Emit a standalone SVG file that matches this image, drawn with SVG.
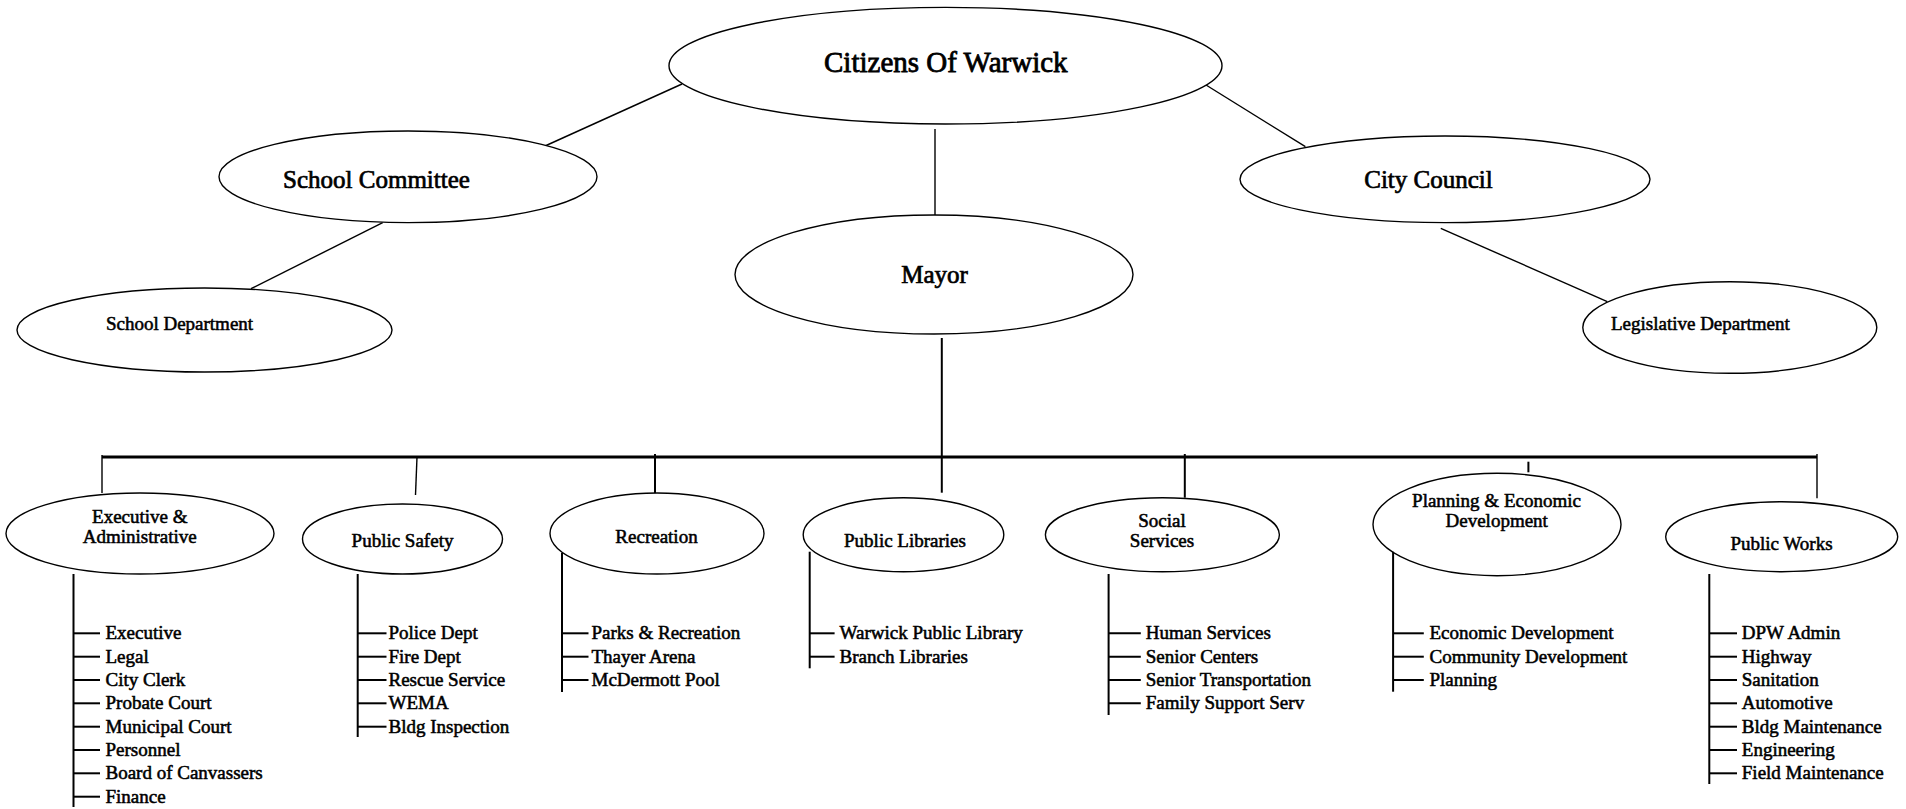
<svg xmlns="http://www.w3.org/2000/svg" width="1906" height="809" viewBox="0 0 1906 809">
<style>
  .bg { fill: #ffffff; }
  .node ellipse { fill: #ffffff; stroke: #000000; stroke-width: 1.4; }
  text { font-family: "Liberation Serif", "Times New Roman", serif; fill: #000000; stroke: #000000; stroke-width: 0.55; }
  .big { font-size: 29px; text-anchor: middle; stroke-width: 0.8; }
  .mid { font-size: 25px; text-anchor: middle; stroke-width: 0.7; }
  .lbl { font-size: 19px; text-anchor: middle; }
  .item { font-size: 19px; text-anchor: start; }
  .conn line { stroke: #000000; stroke-width: 1.4; fill: none; }
  .conn .bus { stroke-width: 3.2; }
  .conn .trunk { stroke-width: 2; }
  .list line { stroke: #000000; stroke-width: 2; }
</style>
<rect class="bg" x="0" y="0" width="1906" height="809"/>

<g id="connectors" class="conn">
  <line x1="682" y1="84" x2="545" y2="146"/>
  <line x1="1204.4" y1="84" x2="1305.4" y2="146.7"/>
  <line x1="935" y1="129" x2="935" y2="215"/>
  <line x1="382.7" y1="222.7" x2="251" y2="288.7"/>
  <line x1="1440.8" y1="228.3" x2="1607.3" y2="301.7"/>
  <line class="trunk" x1="941.8" y1="338" x2="941.8" y2="492.7"/>
  <line class="bus" x1="102" y1="457" x2="1817" y2="457"/>
  <line x1="102" y1="455" x2="102" y2="493"/>
  <line x1="417" y1="457" x2="415.5" y2="495"/>
  <line class="trunk" x1="655" y1="454" x2="655" y2="493"/>
  <line class="trunk" x1="1184.8" y1="454" x2="1184.8" y2="497.7"/>
  <line class="trunk" x1="1528.4" y1="461.7" x2="1528.4" y2="472.3"/>
  <line x1="1817" y1="454" x2="1817" y2="498.3"/>
</g>

<g id="citizens" class="node">
  <ellipse cx="945.5" cy="65.7" rx="276.5" ry="58.3"/>
  <text class="big" x="945.8" y="72">Citizens Of Warwick</text>
</g>
<g id="school-committee" class="node">
  <ellipse cx="408" cy="176.8" rx="189" ry="45.8"/>
  <text class="mid" x="376.5" y="188">School Committee</text>
</g>
<g id="city-council" class="node">
  <ellipse cx="1445" cy="179.3" rx="205" ry="43.3"/>
  <text class="mid" x="1428.5" y="188">City Council</text>
</g>
<g id="mayor" class="node">
  <ellipse cx="934" cy="274.5" rx="199" ry="59.5"/>
  <text class="mid" x="934.5" y="283">Mayor</text>
</g>
<g id="school-department" class="node">
  <ellipse cx="204.5" cy="330" rx="187.5" ry="42"/>
  <text class="lbl" x="179.5" y="330">School Department</text>
</g>
<g id="legislative-department" class="node">
  <ellipse cx="1729.8" cy="327.5" rx="147" ry="45.8"/>
  <text class="lbl" x="1700.4" y="330">Legislative Department</text>
</g>

<g id="executive-administrative" class="node">
  <ellipse cx="140" cy="533.5" rx="134" ry="40.5"/>
  <text class="lbl" x="139.8" y="523">Executive &amp;</text>
  <text class="lbl" x="139.8" y="543">Administrative</text>
  <g class="list">
    <line x1="73.5" y1="574" x2="73.5" y2="807"/>
    <line x1="73.5" y1="633.3" x2="100" y2="633.3"/>
    <line x1="73.5" y1="656.7" x2="100" y2="656.7"/>
    <line x1="73.5" y1="680" x2="100" y2="680"/>
    <line x1="73.5" y1="703.3" x2="100" y2="703.3"/>
    <line x1="73.5" y1="726.7" x2="100" y2="726.7"/>
    <line x1="73.5" y1="750" x2="100" y2="750"/>
    <line x1="73.5" y1="773.3" x2="100" y2="773.3"/>
    <line x1="73.5" y1="796.7" x2="100" y2="796.7"/>
  </g>
  <text class="item" x="105.5" y="639.3">Executive</text>
  <text class="item" x="105.5" y="662.7">Legal</text>
  <text class="item" x="105.5" y="686">City Clerk</text>
  <text class="item" x="105.5" y="709.3">Probate Court</text>
  <text class="item" x="105.5" y="732.7">Municipal Court</text>
  <text class="item" x="105.5" y="756">Personnel</text>
  <text class="item" x="105.5" y="779.3">Board of Canvassers</text>
  <text class="item" x="105.5" y="802.7">Finance</text>
</g>

<g id="public-safety" class="node">
  <ellipse cx="402.5" cy="539" rx="100" ry="35"/>
  <text class="lbl" x="402.5" y="547">Public Safety</text>
  <g class="list">
    <line x1="357.7" y1="574" x2="357.7" y2="737"/>
    <line x1="357.7" y1="633.3" x2="386.5" y2="633.3"/>
    <line x1="357.7" y1="656.7" x2="386.5" y2="656.7"/>
    <line x1="357.7" y1="680" x2="386.5" y2="680"/>
    <line x1="357.7" y1="703.3" x2="386.5" y2="703.3"/>
    <line x1="357.7" y1="726.7" x2="386.5" y2="726.7"/>
  </g>
  <text class="item" x="388.5" y="639.3">Police Dept</text>
  <text class="item" x="388.5" y="662.7">Fire Dept</text>
  <text class="item" x="388.5" y="686">Rescue Service</text>
  <text class="item" x="388.5" y="709.3">WEMA</text>
  <text class="item" x="388.5" y="732.7">Bldg Inspection</text>
</g>

<g id="recreation" class="node">
  <ellipse cx="657" cy="533.5" rx="107" ry="40.5"/>
  <text class="lbl" x="656.5" y="543">Recreation</text>
  <g class="list">
    <line x1="562" y1="553" x2="562" y2="692"/>
    <line x1="562" y1="633.3" x2="588.5" y2="633.3"/>
    <line x1="562" y1="656.7" x2="588.5" y2="656.7"/>
    <line x1="562" y1="680" x2="588.5" y2="680"/>
  </g>
  <text class="item" x="591.5" y="639.3">Parks &amp; Recreation</text>
  <text class="item" x="591.5" y="662.7">Thayer Arena</text>
  <text class="item" x="591.5" y="686">McDermott Pool</text>
</g>

<g id="public-libraries" class="node">
  <ellipse cx="903.5" cy="534.7" rx="100.3" ry="37"/>
  <text class="lbl" x="905" y="547">Public Libraries</text>
  <g class="list">
    <line x1="809.7" y1="551.7" x2="809.7" y2="668.3"/>
    <line x1="809.7" y1="633.3" x2="834.6" y2="633.3"/>
    <line x1="809.7" y1="656.7" x2="834.6" y2="656.7"/>
  </g>
  <text class="item" x="839.6" y="639.3">Warwick Public Library</text>
  <text class="item" x="839.6" y="662.7">Branch Libraries</text>
</g>

<g id="social-services" class="node">
  <ellipse cx="1162.4" cy="534.7" rx="117" ry="37"/>
  <text class="lbl" x="1162" y="527">Social</text>
  <text class="lbl" x="1162" y="547">Services</text>
  <g class="list">
    <line x1="1108.6" y1="574" x2="1108.6" y2="715"/>
    <line x1="1108.6" y1="633.3" x2="1140.8" y2="633.3"/>
    <line x1="1108.6" y1="656.7" x2="1140.8" y2="656.7"/>
    <line x1="1108.6" y1="680" x2="1140.8" y2="680"/>
    <line x1="1108.6" y1="703.3" x2="1140.8" y2="703.3"/>
  </g>
  <text class="item" x="1145.8" y="639.3">Human Services</text>
  <text class="item" x="1145.8" y="662.7">Senior Centers</text>
  <text class="item" x="1145.8" y="686">Senior Transportation</text>
  <text class="item" x="1145.8" y="709.3">Family Support Serv</text>
</g>

<g id="planning-economic-development" class="node">
  <ellipse cx="1497" cy="524.5" rx="124" ry="51.2"/>
  <text class="lbl" x="1496.5" y="507">Planning &amp; Economic</text>
  <text class="lbl" x="1496.7" y="527">Development</text>
  <g class="list">
    <line x1="1393.1" y1="551.7" x2="1393.1" y2="691.7"/>
    <line x1="1393.1" y1="633.3" x2="1423.8" y2="633.3"/>
    <line x1="1393.1" y1="656.7" x2="1423.8" y2="656.7"/>
    <line x1="1393.1" y1="680" x2="1423.8" y2="680"/>
  </g>
  <text class="item" x="1429.5" y="639.3">Economic Development</text>
  <text class="item" x="1429.5" y="662.7">Community Development</text>
  <text class="item" x="1429.5" y="686">Planning</text>
</g>

<g id="public-works" class="node">
  <ellipse cx="1781.7" cy="536.7" rx="116" ry="35"/>
  <text class="lbl" x="1781.5" y="550">Public Works</text>
  <g class="list">
    <line x1="1709.3" y1="574" x2="1709.3" y2="784"/>
    <line x1="1709.3" y1="633.3" x2="1737" y2="633.3"/>
    <line x1="1709.3" y1="656.7" x2="1737" y2="656.7"/>
    <line x1="1709.3" y1="680" x2="1737" y2="680"/>
    <line x1="1709.3" y1="703.3" x2="1737" y2="703.3"/>
    <line x1="1709.3" y1="726.7" x2="1737" y2="726.7"/>
    <line x1="1709.3" y1="750" x2="1737" y2="750"/>
    <line x1="1709.3" y1="773.3" x2="1737" y2="773.3"/>
  </g>
  <text class="item" x="1741.8" y="639.3">DPW Admin</text>
  <text class="item" x="1741.8" y="662.7">Highway</text>
  <text class="item" x="1741.8" y="686">Sanitation</text>
  <text class="item" x="1741.8" y="709.3">Automotive</text>
  <text class="item" x="1741.8" y="732.7">Bldg Maintenance</text>
  <text class="item" x="1741.8" y="756">Engineering</text>
  <text class="item" x="1741.8" y="779.3">Field Maintenance</text>
</g>
</svg>
